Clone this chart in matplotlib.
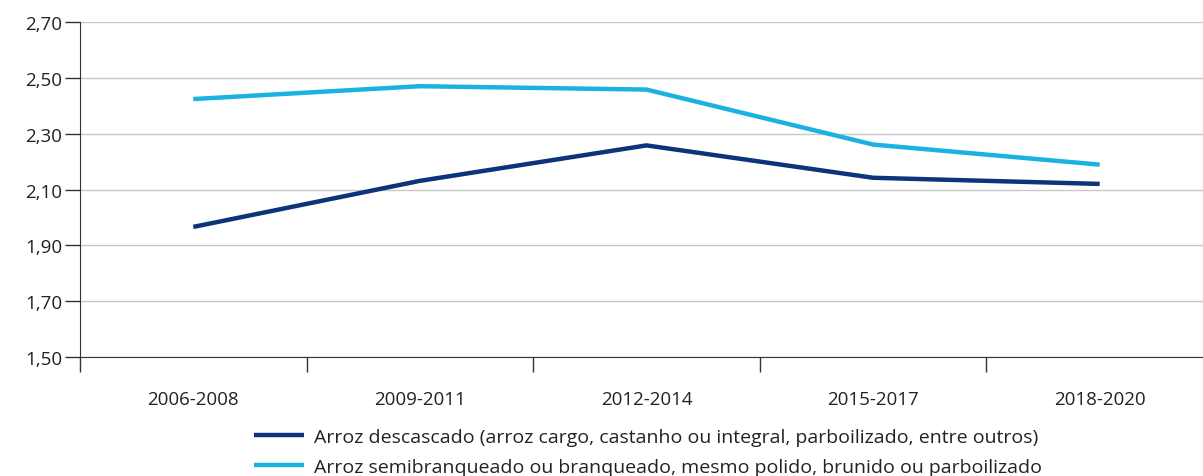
import matplotlib.pyplot as plt
from matplotlib.ticker import FixedLocator, FuncFormatter

periodos = ["2006-2008", "2009-2011", "2012-2014", "2015-2017", "2018-2020"]
descascado = [1.966, 2.131, 2.258, 2.142, 2.120]
branqueado = [2.424, 2.470, 2.458, 2.261, 2.189]

rotulos = [
    "Arroz descascado (arroz cargo, castanho ou integral, parboilizado, entre outros)",
    "Arroz semibranqueado ou branqueado, mesmo polido, brunido ou parboilizado",
]
cores = ["#0b347a", "#1bb1e1"]

plt.rcParams['font.family'] = ['Open Sans', 'DejaVu Sans']

fig = plt.figure(figsize=(12.03, 4.77), dpi=100)
ax = fig.add_axes([80 / 1203, (477 - 358) / 477, (1213 - 80) / 1203, 335 / 477])

x = list(range(len(periodos)))
ax.plot(x, descascado, color=cores[0], lw=3.2, label=rotulos[0], solid_capstyle='butt')
ax.plot(x, branqueado, color=cores[1], lw=3.2, label=rotulos[1], solid_capstyle='butt')

ax.set_ylim(1.5, 2.7)
ax.set_xlim(-0.5, len(periodos) - 0.5)
ax.set_yticks([1.5, 1.7, 1.9, 2.1, 2.3, 2.5, 2.7])
ax.yaxis.set_major_formatter(FuncFormatter(lambda v, p: f"{v:.2f}".replace('.', ',')))
ax.yaxis.grid(True, color='#c8c8c8', lw=1)
ax.set_axisbelow(True)

ax.set_xticks(x)
ax.set_xticklabels(periodos)
ax.xaxis.set_minor_locator(FixedLocator([i - 0.5 for i in range(len(periodos))]))
ax.tick_params(axis='x', which='major', length=0, pad=24, labelsize=13.5, labelcolor='#222222')
ax.tick_params(axis='x', which='minor', length=11, width=1, color='#333333', direction='out')
ax.tick_params(axis='y', length=11, width=1, color='#333333', labelsize=13.5, labelcolor='#222222', pad=2)

for s in ['top', 'right']:
    ax.spines[s].set_visible(False)
ax.spines['left'].set_color('#333333')
ax.spines['bottom'].set_color('#333333')

fig.legend(loc='upper center', bbox_to_anchor=(648 / 1203, 1 - 415 / 477), ncol=1,
           frameon=False, fontsize=14, handlelength=2.6, handletextpad=0.5,
           labelspacing=0.65, labelcolor='#222222', borderpad=0.2)

fig.savefig('out.png', dpi=100)
